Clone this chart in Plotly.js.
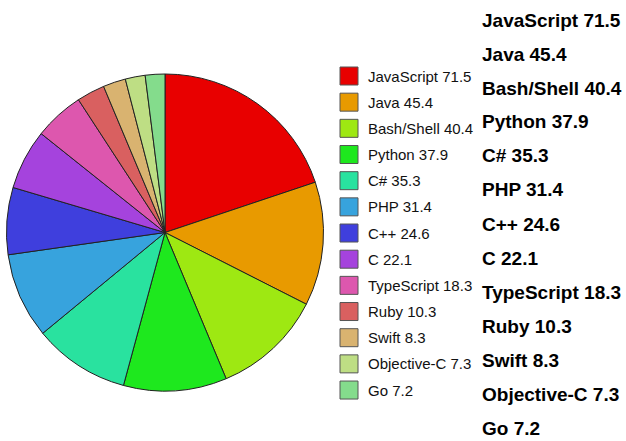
<!DOCTYPE html>
<html>
<head>
<meta charset="utf-8">
<script src="https://cdn.plot.ly/plotly-3.0.1.min.js"></script>
<style>
html,body{margin:0;padding:0;background:#fff;}
#chart{width:626px;height:441px;}
</style>
</head>
<body>
<div id="chart"></div>
<script>
const languages = ["JavaScript","Java","Bash/Shell","Python","C#","PHP","C++","C","TypeScript","Ruby","Swift","Objective-C","Go"];
const values = [71.5,45.4,40.4,37.9,35.3,31.4,24.6,22.1,18.3,10.3,8.3,7.3,7.2];
const colors = ["#e80000","#e89a00","#9ee812","#1ee81e","#29e29f","#37a3dd","#3f3fdd","#a543dd","#dd57ae","#d96060","#d9b370","#bede84","#84dc8c"];

const W = 626, H = 441;
const px = x => x / W;
const py = y => 1 - y / H;

const labels = languages.map((l, i) => l + " " + values[i]);

const cx = 165, cy = 232.5, r = 158.5;

const trace = {
  type: "pie",
  labels: labels,
  values: values,
  sort: false,
  direction: "clockwise",
  rotation: 0,
  textinfo: "none",
  hoverinfo: "label",
  showlegend: false,
  marker: {colors: colors, line: {color: "#222", width: 1}},
  domain: {x: [px(cx - r), px(cx + r)], y: [py(cy + r), py(cy - r)]}
};

const shapes = [];
const annotations = [];
labels.forEach((lab, i) => {
  const yc = 76 + i * 26.17;
  shapes.push({
    type: "rect", xref: "paper", yref: "paper",
    x0: px(340), x1: px(358), y0: py(yc + 9), y1: py(yc - 9),
    fillcolor: colors[i], line: {color: "#555", width: 1}
  });
  annotations.push({
    xref: "paper", yref: "paper", x: px(366), y: py(yc),
    xanchor: "left", yanchor: "middle", showarrow: false,
    text: lab, font: {family: "Liberation Sans, Arial, sans-serif", size: 15, color: "#111"}
  });
  const yr = 20 + i * 34;
  annotations.push({
    xref: "paper", yref: "paper", x: px(480), y: py(yr),
    xanchor: "left", yanchor: "middle", showarrow: false,
    text: "<b>" + lab + "</b>", font: {family: "Liberation Sans, Arial, sans-serif", size: 19, color: "#000"}
  });
});

const layout = {
  width: W, height: H,
  margin: {l: 0, r: 0, t: 0, b: 0},
  paper_bgcolor: "#fff",
  showlegend: false,
  shapes: shapes,
  annotations: annotations
};

Plotly.newPlot("chart", [trace], layout, {displayModeBar: false, staticPlot: true});
</script>
</body>
</html>
